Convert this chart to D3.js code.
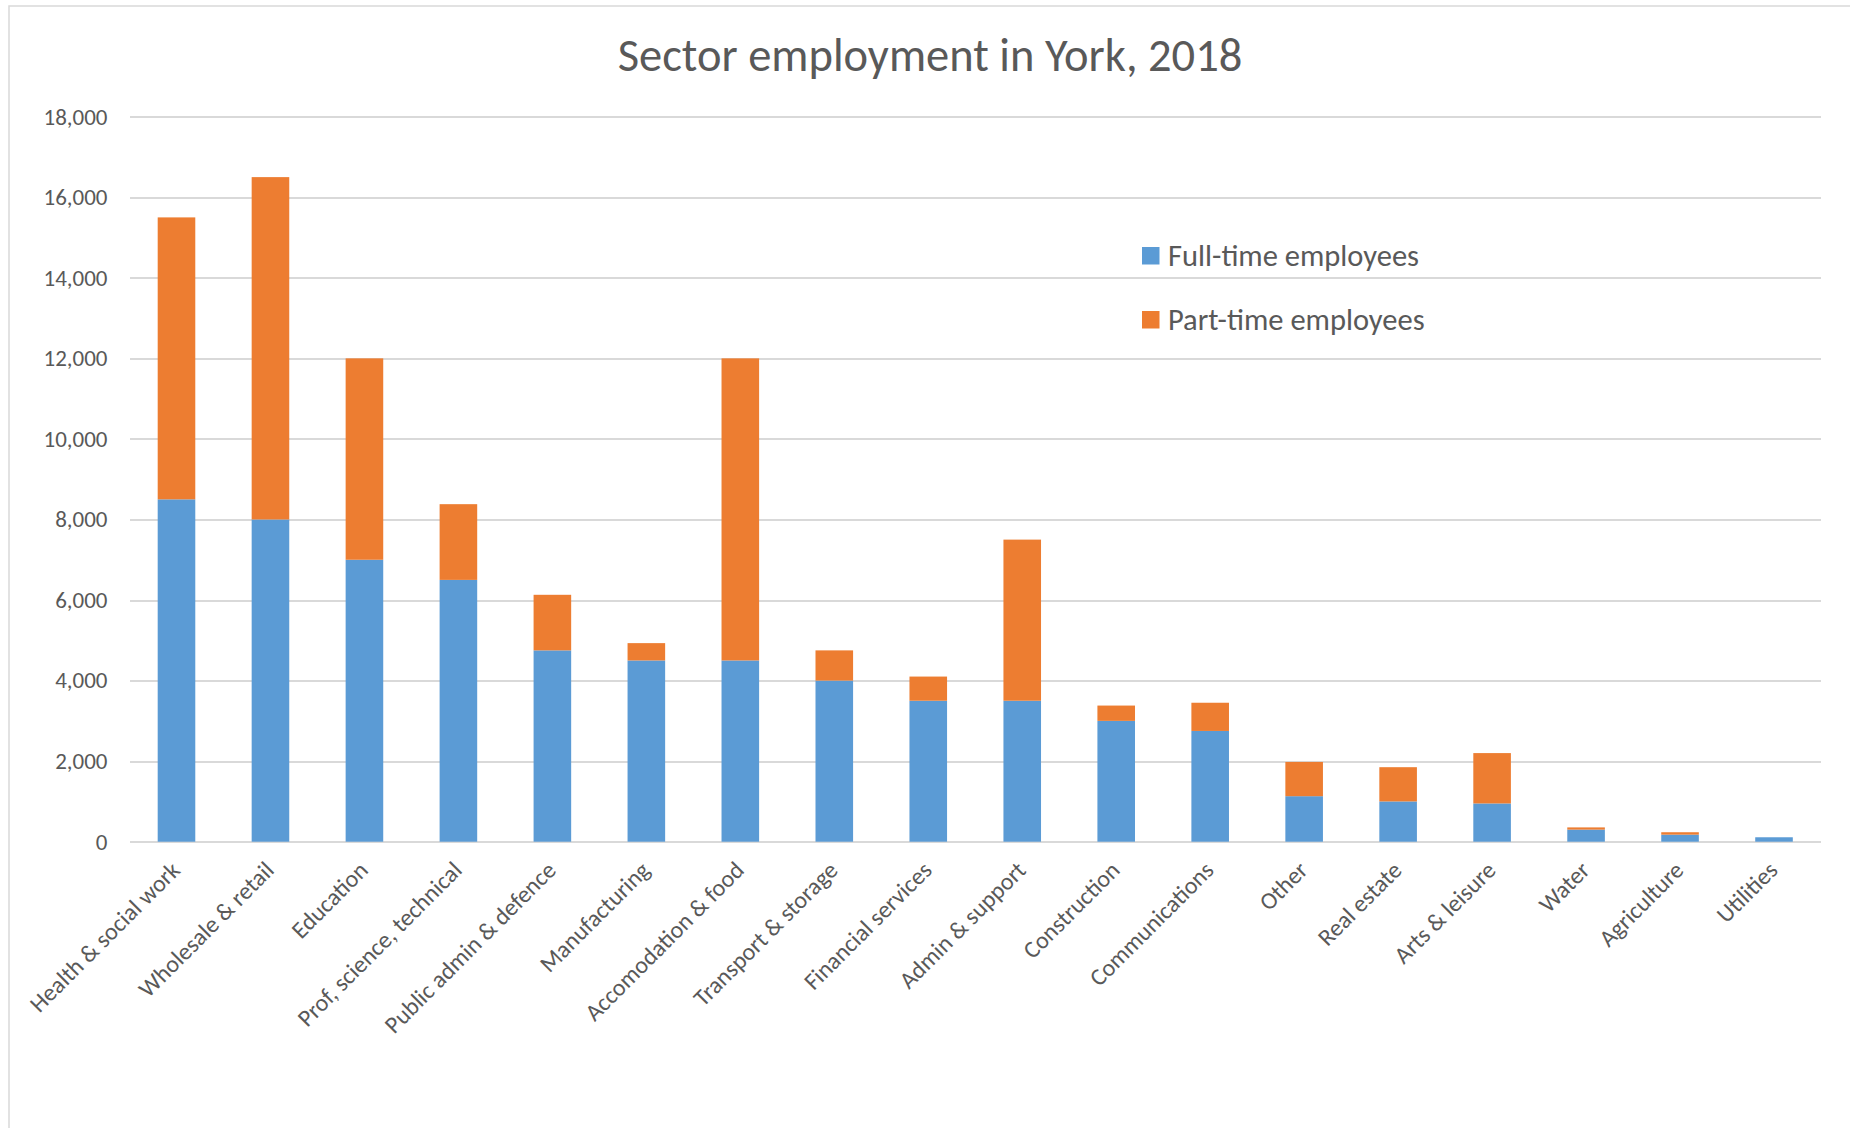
<!DOCTYPE html>
<html>
  <head>
    <script src="https://d3js.org/d3.v7.min.js" charset="utf-8"></script>
    <style type="text/css">
      body {
        margin: 0;
        padding: 0;
        background-color: #ffffff;
      }
      svg text {
        font-family: Carlito, Calibri, Lato, sans-serif;
        fill: #595959;
      }
      .grid line {
        stroke: #d9d9d9;
        stroke-width: 2;
        shape-rendering: crispEdges;
      }
      .grid path {
        display: none;
      }
    </style>
  </head>
  <body>
    <div id="chart"></div>
  <script type="text/javascript">

    // Data
    var categories = ["Health & social work", "Wholesale & retail", "Education",
      "Prof, science, technical", "Public admin & defence", "Manufacturing",
      "Accomodation & food", "Transport & storage", "Financial services",
      "Admin & support", "Construction", "Communications", "Other",
      "Real estate", "Arts & leisure", "Water", "Agriculture", "Utilities"];
    var fullTime = [8500, 8000, 7000, 6500, 4750, 4500, 4500, 4000, 3500,
      3500, 3000, 2750, 1130, 1000, 950, 300, 175, 110];
    var partTime = [7000, 8500, 5000, 1880, 1380, 430, 7500, 750, 600,
      4000, 380, 700, 850, 850, 1250, 55, 60, 0];
    var seriesNames = ["Full-time employees", "Part-time employees"];
    var seriesColors = ["#5b9bd5", "#ed7d31"];
    var yTicks = [0, 2000, 4000, 6000, 8000, 10000, 12000, 14000, 16000, 18000];

    var canvas_width = 1850;
    var canvas_height = 1128;
    var plot = {left: 129.5, right: 1821, top: 116.7, bottom: 841.7};

    // table for d3.stack
    var table = categories.map(function (c, i) {
      return {category: c, full: fullTime[i], part: partTime[i]};
    });
    var stacked = d3.stack().keys(["full", "part"])(table);

    var xScale = d3.scaleBand()
      .domain(categories)
      .range([plot.left, plot.right])
      .paddingInner(0.6)
      .paddingOuter(0.3);

    var yScale = d3.scaleLinear()
      .domain([0, 18000])
      .range([plot.bottom, plot.top]);

    var svg = d3.select("#chart")
      .append("svg")
      .attr("width", canvas_width)
      .attr("height", canvas_height);

    // chart area border (cropped on right/bottom)
    svg.append("rect")
      .attr("x", 9)
      .attr("y", 6)
      .attr("width", canvas_width + 20)
      .attr("height", canvas_height + 20)
      .style("fill", "none")
      .style("stroke", "#d9d9d9")
      .style("stroke-width", 1.5);

    // title
    svg.append("text")
      .attr("x", 930)
      .attr("y", 71)
      .style("text-anchor", "middle")
      .style("font-size", "46.5px")
      .text("Sector employment in York, 2018");

    // gridlines + y labels
    var yAxis = d3.axisLeft(yScale)
      .tickValues(yTicks)
      .tickSize(-(plot.right - plot.left))
      .tickPadding(22)
      .tickFormat(d3.format(","));

    var gy = svg.append("g")
      .attr("class", "grid")
      .attr("transform", "translate(" + plot.left + ",0)")
      .call(yAxis);
    gy.selectAll("text")
      .style("font-size", "23px")
      .style("fill", "#595959");

    // bars
    svg.append("g")
      .selectAll("g")
      .data(stacked)
      .enter()
      .append("g")
      .style("fill", function (d, i) { return seriesColors[i]; })
      .selectAll("rect")
      .data(function (d) { return d; })
      .enter()
      .append("rect")
      .attr("x", function (d) { return xScale(d.data.category); })
      .attr("y", function (d) { return yScale(d[1]); })
      .attr("width", xScale.bandwidth())
      .attr("height", function (d) { return yScale(d[0]) - yScale(d[1]); });

    // x labels, rotated
    svg.append("g")
      .selectAll("text")
      .data(categories)
      .enter()
      .append("text")
      .attr("transform", function (d) {
        return "translate(" + (xScale(d) + xScale.bandwidth() / 2 + 5) + "," + (plot.bottom + 30) + ") rotate(-45)";
      })
      .style("text-anchor", "end")
      .style("font-size", "24px")
      .text(function (d) { return d; });

    // legend
    var legend = svg.append("g")
      .selectAll("g")
      .data(seriesNames)
      .enter()
      .append("g")
      .attr("transform", function (d, i) { return "translate(1142," + (247 + i * 64) + ")"; });
    legend.append("rect")
      .attr("width", 17.5)
      .attr("height", 17.5)
      .style("fill", function (d, i) { return seriesColors[i]; });
    legend.append("text")
      .attr("x", 26)
      .attr("y", 19)
      .style("font-size", "30.5px")
      .text(function (d) { return d; });

  </script>
  </body>
</html>
